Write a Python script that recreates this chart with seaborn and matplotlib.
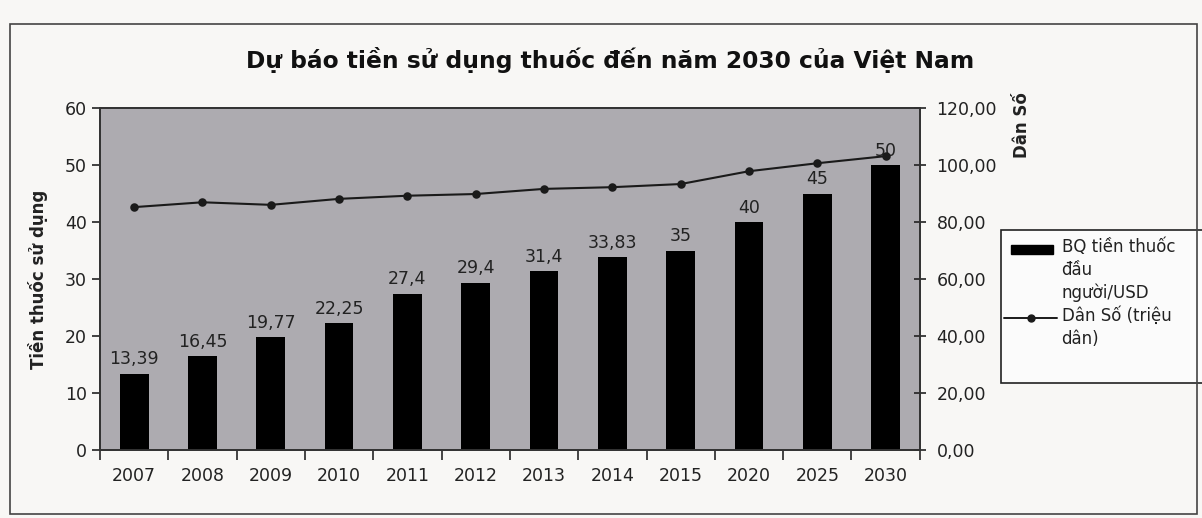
import matplotlib
matplotlib.use("Agg")
import matplotlib.pyplot as plt
import matplotlib.patches as mpatches
from matplotlib.lines import Line2D
from matplotlib.legend_handler import HandlerPatch, HandlerLine2D
from matplotlib.ticker import FuncFormatter, MultipleLocator, FixedLocator
import seaborn as sns
import pandas as pd

years = ["2007", "2008", "2009", "2010", "2011", "2012", "2013", "2014", "2015", "2020", "2025", "2030"]
spending = [13.39, 16.45, 19.77, 22.25, 27.4, 29.4, 31.4, 33.83, 35, 40, 45, 50]
population = [85.3, 87.0, 86.1, 88.2, 89.3, 89.9, 91.7, 92.3, 93.4, 97.9, 100.7, 103.2]

title = "Dự báo tiền sử dụng thuốc đến năm 2030 của Việt Nam"
left_label = "Tiền thuốc sử dụng"
right_label = "Dân Số"
bar_legend = "BQ tiền thuốc\nđầu\nngười/USD"
line_legend = "Dân Số (triệu\ndân)"

sns.set_theme(style="white")
plt.rcParams["font.family"] = ["DejaVu Sans"]

df = pd.DataFrame({"year": years, "spending": spending, "population": population})

fig = plt.figure(figsize=(12.02, 5.18), dpi=100)
fig.patch.set_facecolor("#f8f7f5")
ax = fig.add_axes([0.0832, 0.131, 0.682, 0.66])
ax.set_facecolor("#adabb0")

sns.barplot(data=df, x="year", y="spending", color="black", width=0.42,
            saturation=1, edgecolor="black", linewidth=0, ax=ax, zorder=2)
labels = [f"{v:g}".replace(".", ",") for v in spending]
ax.bar_label(ax.containers[0], labels=labels, padding=4, fontsize=12.5, color="#222222")

ax.set_ylim(0, 60)
ax.yaxis.set_major_locator(MultipleLocator(10))
ax.set_xlabel("")
ax.set_ylabel(left_label, fontsize=12, fontweight="bold", labelpad=12, color="#222222")
ax.tick_params(axis="y", labelsize=12.5, direction="out", length=6, width=1.2, colors="#222222", left=True)
ax.tick_params(axis="x", labelsize=12.5, length=0, colors="#222222", pad=12)
ax.xaxis.set_minor_locator(FixedLocator([i + 0.5 for i in range(-1, len(years))]))
ax.tick_params(axis="x", which="minor", length=7, width=1.2, direction="out", bottom=True)

ax2 = ax.twinx()
sns.pointplot(data=df, x="year", y="population", color="#1a1a1a", markers="o",
              markersize=5, linewidth=1.5, ax=ax2)
ax2.set_ylim(0, 120)
ax2.yaxis.set_major_locator(MultipleLocator(20))
ax2.yaxis.set_major_formatter(FuncFormatter(lambda v, p: f"{v:.2f}".replace(".", ",")))
ax2.set_ylabel("")
ax2.tick_params(axis="y", labelsize=12.5, direction="inout", length=8, width=1.2, colors="#222222", right=True, pad=8)
ax.set_xlim(-0.5, len(years) - 0.5)

for a in (ax, ax2):
    for s in a.spines.values():
        s.set_color("#333333")
        s.set_linewidth(1.3)

fig.text(1022 / 1202, 1 - 125 / 518, right_label, rotation=90, ha="center", va="center",
         fontsize=12, fontweight="bold", color="#222222")

fig.text(610 / 1202, 1 - 60 / 518, title, ha="center", va="center",
         fontsize=16.8, fontweight="bold", color="#111111")

LEG_FS = 12
LSP = 1.35
LINE_STEP = LEG_FS * 1.17 * LSP / 1.2


def bar_handle(legend, orig_handle, xdescent, ydescent, width, height, fontsize):
    return mpatches.Rectangle((-xdescent + 5, -ydescent + LINE_STEP + 1), width - 8, height * 0.75,
                              facecolor="black", edgecolor="black")


class ShiftedLine(HandlerLine2D):
    def create_artists(self, legend, orig_handle, xdescent, ydescent, width, height, fontsize, trans):
        arts = super().create_artists(legend, orig_handle, xdescent, ydescent, width, height, fontsize, trans)
        for a in arts:
            a.set_ydata([y + LINE_STEP / 2 for y in a.get_ydata()])
        return arts


handles = [mpatches.Patch(facecolor="black", edgecolor="black"),
           Line2D([0], [0], color="#1a1a1a", marker="o", markersize=5, linewidth=1.4)]
leg = fig.legend(handles, [bar_legend, line_legend], loc="upper left",
                 bbox_to_anchor=(1004 / 1202, 1 - 238 / 518),
                 frameon=False,
                 fontsize=LEG_FS, handlelength=3.2, handletextpad=0.25, borderpad=0.0,
                 labelspacing=0.25, borderaxespad=0,
                 handler_map={mpatches.Patch: HandlerPatch(patch_func=bar_handle),
                              Line2D: ShiftedLine()})
for t in leg.get_texts():
    t.set_color("#222222")
    t.set_linespacing(LSP)

# legend frame (extends past the right edge like the reference)
fig.add_artist(mpatches.Rectangle((1001 / 1202, 1 - 383 / 518), 220 / 1202, 153 / 518,
                                  transform=fig.transFigure, facecolor="#fbfbfb",
                                  edgecolor="#222222", linewidth=1.2, zorder=0.5))

fig.add_artist(mpatches.Rectangle((10 / 1202, 1 - 514 / 518), 1187 / 1202, 490 / 518,
                                  transform=fig.transFigure, fill=False,
                                  edgecolor="#444444", linewidth=1.2))

fig.savefig("out.png", dpi=100, facecolor=fig.get_facecolor())
